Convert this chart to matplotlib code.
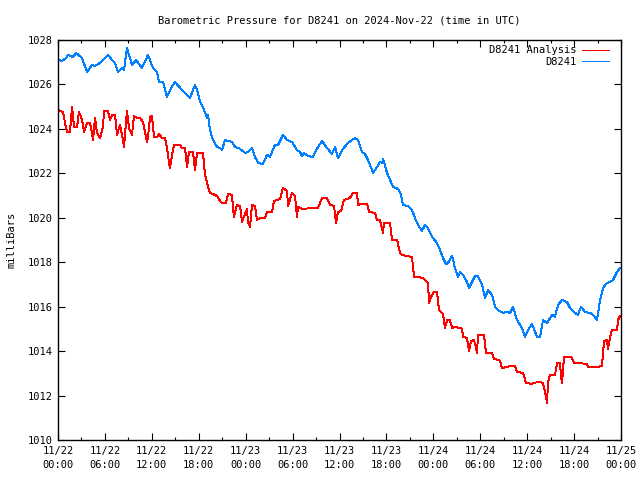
import matplotlib
matplotlib.use("Agg")
import matplotlib.pyplot as plt
from matplotlib.ticker import MultipleLocator

# hours since 2024-11-22 00:00 UTC
blue_h = [0.00,0.51,1.02,1.28,1.92,2.30,3.07,3.71,4.35,4.73,5.37,5.76,6.39,6.91,7.29,7.67,8.19,8.44,8.82,9.21,
          9.46,9.98,10.36,10.74,11.51,12.15,12.66,12.92,13.43,13.94,14.45,14.96,15.86,16.50,16.88,17.52,17.90,18.16,18.54,19.06,
          19.18,19.44,19.82,20.33,20.72,20.97,21.36,21.74,22.25,22.64,23.28,23.92,24.30,24.81,25.19,25.58,26.22,26.73,27.11,27.75,
          28.14,28.78,29.29,29.93,30.57,30.95,31.21,31.46,31.97,32.61,33.12,33.76,34.40,35.04,35.43,35.81,36.45,37.09,37.98,38.37,
          38.88,39.26,39.65,40.29,40.80,41.18,41.44,41.57,42.08,42.46,42.84,43.48,43.87,44.12,44.76,45.27,45.66,46.04,46.55,46.94,
          47.32,47.83,48.47,48.85,49.24,49.62,49.88,50.39,50.77,51.16,51.41,51.80,52.31,52.56,52.95,53.33,53.71,54.23,54.61,54.99,
          55.50,55.89,56.27,56.91,57.42,57.81,58.19,58.70,59.34,59.73,60.11,60.62,61.26,61.64,62.03,62.54,63.18,63.56,63.95,64.46,
          65.10,65.48,66.12,66.50,66.89,67.40,68.04,68.42,68.93,69.32,69.70,70.21,70.60,70.98,71.49,71.87]
blue_v = [1027.10,1027.06,1027.19,1027.33,1027.24,1027.42,1027.19,1026.56,1026.88,1026.83,1026.97,1027.10,1027.33,1027.10,1026.97,1026.56,1026.74,1026.65,1027.64,1027.19,
          1026.88,1027.10,1026.92,1026.74,1027.33,1026.74,1026.56,1026.11,1026.11,1025.44,1025.84,1026.11,1025.75,1025.53,1025.39,1025.98,1025.62,1025.21,1024.99,1024.49,
          1024.63,1023.95,1023.50,1023.19,1023.14,1023.05,1023.50,1023.46,1023.41,1023.19,1023.10,1022.92,1022.96,1023.14,1022.74,1022.47,1022.42,1022.83,1022.74,1023.28,
          1023.28,1023.73,1023.50,1023.41,1023.05,1022.96,1022.78,1022.92,1022.78,1022.74,1023.10,1023.46,1023.14,1022.87,1023.19,1022.69,1023.10,1023.37,1023.59,1023.50,
          1022.96,1022.87,1022.60,1022.02,1022.29,1022.51,1022.47,1022.65,1022.02,1021.70,1021.39,1021.30,1021.03,1020.58,1020.53,1020.35,1019.99,1019.68,1019.41,1019.68,
          1019.54,1019.14,1018.87,1018.55,1018.19,1017.92,1017.97,1018.28,1017.74,1017.34,1017.56,1017.43,1017.11,1016.84,1017.11,1017.38,1017.38,1016.98,1016.39,1016.75,
          1016.53,1015.99,1015.85,1015.72,1015.76,1015.72,1015.99,1015.40,1015.04,1014.64,1014.95,1015.22,1014.64,1014.64,1015.40,1015.27,1015.63,1015.54,1016.08,1016.30,
          1016.21,1015.94,1015.72,1015.63,1015.99,1015.76,1015.72,1015.63,1015.40,1016.30,1016.84,1017.07,1017.11,1017.20,1017.56,1017.74]

red_h = [0.00,0.64,0.90,1.15,1.53,1.79,2.05,2.43,2.69,3.07,3.33,3.71,4.09,4.35,4.48,4.73,4.99,5.37,5.76,5.88,
         6.39,6.65,6.91,7.29,7.55,7.93,8.31,8.44,8.82,9.08,9.46,9.72,10.10,10.49,10.87,11.38,11.51,11.77,12.02,12.28,
         12.66,12.92,13.30,13.68,13.94,14.20,14.32,14.58,14.84,15.60,15.86,16.24,16.50,16.75,17.27,17.52,17.78,18.54,18.80,19.18,
         19.44,19.82,20.33,20.72,20.97,21.49,21.74,22.25,22.38,22.51,22.89,23.28,23.53,23.66,24.17,24.30,24.56,24.81,25.19,25.45,
         25.83,26.47,26.73,27.37,27.62,28.39,28.78,29.29,29.42,29.93,30.31,30.57,30.69,31.21,32.61,33.25,33.76,34.40,34.79,35.30,
         35.55,35.81,36.19,36.58,37.34,37.72,38.24,38.37,38.88,39.52,39.78,40.54,40.80,41.18,41.44,41.57,41.69,42.46,42.72,43.36,
         43.74,44.00,44.63,45.27,45.53,45.91,46.68,47.32,47.45,47.70,48.09,48.47,48.73,49.24,49.49,49.75,50.13,50.39,50.77,51.41,
         51.67,51.80,52.31,52.56,52.82,53.20,53.46,53.59,53.71,54.48,54.74,55.50,55.76,56.27,56.53,56.78,57.55,57.81,58.45,58.70,
         59.47,59.85,60.62,60.75,61.64,62.03,62.41,62.54,62.67,62.92,63.56,63.82,64.20,64.33,64.46,64.71,65.61,65.99,66.50,67.66,
         67.79,68.93,69.57,69.83,70.21,70.34,70.60,70.85,71.49,71.62,71.87]
red_v = [1024.85,1024.76,1024.27,1023.86,1023.86,1024.99,1024.09,1024.09,1024.76,1024.40,1023.86,1024.27,1024.27,1023.82,1023.50,1024.49,1023.82,1023.59,1024.09,1024.81,
         1024.81,1024.40,1024.63,1024.63,1023.73,1024.18,1023.50,1023.19,1024.81,1024.04,1023.73,1024.58,1024.49,1024.49,1024.31,1023.41,1023.64,1024.54,1024.58,1023.64,
         1023.64,1023.77,1023.59,1023.59,1023.14,1022.47,1022.24,1022.83,1023.28,1023.28,1023.14,1023.14,1022.29,1022.96,1022.96,1022.15,1022.92,1022.92,1021.93,1021.39,
         1021.12,1021.07,1020.98,1020.76,1020.67,1020.67,1021.07,1021.03,1020.44,1020.04,1020.58,1020.53,1019.81,1019.95,1020.40,1019.77,1019.59,1020.58,1020.53,1019.90,
         1019.99,1019.99,1020.26,1020.26,1020.76,1020.85,1021.34,1021.21,1020.53,1021.12,1020.98,1020.04,1020.49,1020.40,1020.44,1020.44,1020.89,1020.89,1020.58,1020.53,
         1019.77,1020.26,1020.31,1020.80,1020.89,1021.12,1021.12,1020.58,1020.62,1020.62,1020.26,1020.22,1019.90,1019.90,1019.50,1019.32,1019.77,1019.77,1019.00,1019.00,
         1018.42,1018.33,1018.28,1018.24,1017.34,1017.34,1017.29,1017.07,1016.17,1016.44,1016.66,1016.66,1015.85,1015.67,1015.04,1015.40,1015.40,1015.04,1015.09,1015.04,
         1015.00,1014.64,1014.59,1014.01,1014.46,1014.50,1014.14,1013.92,1014.73,1014.73,1013.92,1013.92,1013.65,1013.60,1013.56,1013.24,1013.29,1013.33,1013.33,1013.06,
         1013.02,1012.57,1012.52,1012.57,1012.61,1012.57,1011.94,1011.67,1012.61,1012.93,1012.93,1013.47,1013.47,1012.88,1012.57,1013.74,1013.74,1013.47,1013.47,1013.42,
         1013.29,1013.29,1013.33,1014.46,1014.50,1014.10,1014.64,1014.95,1014.95,1015.40,1015.58]

x_ticks = [0, 6, 12, 18, 24, 30, 36, 42, 48, 54, 60, 66, 72]
x_labels = ["11/22\n00:00", "11/22\n06:00", "11/22\n12:00", "11/22\n18:00",
            "11/23\n00:00", "11/23\n06:00", "11/23\n12:00", "11/23\n18:00",
            "11/24\n00:00", "11/24\n06:00", "11/24\n12:00", "11/24\n18:00",
            "11/25\n00:00"]
y_ticks = [1010, 1012, 1014, 1016, 1018, 1020, 1022, 1024, 1026, 1028]

plt.rcParams['font.family'] = ['DejaVu Sans Mono']
plt.rcParams['font.size'] = 7.5

fig = plt.figure(figsize=(6.4, 4.8), dpi=100)
ax = fig.add_axes([58/640, 40/480, (621-58)/640, 400/480])

ax.plot(red_h, red_v, color='#ff0000', lw=0.7, label='D8241 Analysis', antialiased=False)
ax.plot(blue_h, blue_v, color='#0080ff', lw=0.7, label='D8241', antialiased=False)

ax.set_xlim(0, 72)
ax.set_ylim(1010, 1028)
ax.set_xticks(x_ticks)
ax.set_xticklabels(x_labels, linespacing=1.5)
ax.xaxis.set_minor_locator(MultipleLocator(3))
ax.set_yticks(y_ticks)
ax.set_yticklabels([str(v) for v in y_ticks])
ax.tick_params(which='major', direction='in', length=5, width=0.8,
               top=True, right=True, pad=4, colors='black')
ax.tick_params(which='minor', direction='in', length=2.5, width=0.8,
               top=True, right=True)
for s in ax.spines.values():
    s.set_linewidth(1.0)

ax.set_ylabel('milliBars', labelpad=8)
ax.set_title('Barometric Pressure for D8241 on 2024-Nov-22 (time in UTC)', pad=12, fontsize=7.5)

leg = ax.legend(loc='upper right', bbox_to_anchor=(1 - 7/563, 1), frameon=False, markerfirst=False,
                handlelength=2.6, handletextpad=0.5, borderaxespad=0.2,
                labelspacing=0.15, fontsize=7.5, borderpad=0.3)
for line in leg.get_lines():
    line.set_antialiased(False)
for t in leg.get_texts():
    t.set_ha('right')

fig.savefig('out.png', dpi=100)
